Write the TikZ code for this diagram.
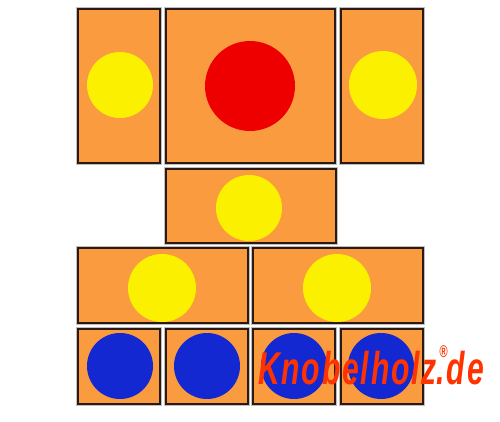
\documentclass[tikz,border=0pt]{standalone}
\usepackage{fontspec}
\newfontfamily\logofont[LetterSpace=6]{Liberation Sans}
\newfontfamily\regfont{Liberation Sans}
\definecolor{blockfill}{HTML}{F99B3E}
\definecolor{blockline}{HTML}{2B1A12}
\definecolor{ball_y}{HTML}{FAF000}
\definecolor{ball_r}{HTML}{EE0000}
\definecolor{ball_b}{HTML}{1428D2}
\definecolor{logo}{HTML}{FF3300}
\tikzset{
  block/.style={draw=blockline, fill=blockfill, line width=2.2pt, inner sep=0pt,
    preaction={draw=black!25, line width=4.5pt}},
  ball/.style={circle, inner sep=0pt, minimum size=#1},
}
\begin{document}
\begin{tikzpicture}[x=1pt,y=-1pt]
\useasboundingbox (0,0) rectangle (500,422);
% row 1
\node[block, minimum width=82pt, minimum height=154pt] (b1) at (119,86) {};
\node[block, minimum width=169pt, minimum height=154pt] (b2) at (250.5,86) {};
\node[block, minimum width=82pt, minimum height=154pt] (b3) at (382,86) {};
% row 2
\node[block, minimum width=170pt, minimum height=74pt] (b4) at (251,206) {};
% row 3
\node[block, minimum width=170pt, minimum height=75pt] (b5) at (163,285.5) {};
\node[block, minimum width=170pt, minimum height=75pt] (b6) at (338,285.5) {};
% row 4
\node[block, minimum width=82pt, minimum height=75pt] (b7) at (119,366.5) {};
\node[block, minimum width=82pt, minimum height=75pt] (b8) at (207,366.5) {};
\node[block, minimum width=82pt, minimum height=75pt] (b9) at (294,366.5) {};
\node[block, minimum width=82pt, minimum height=75pt] (b10) at (382,366.5) {};
% balls
\node[ball=66pt, fill=ball_y] (c1) at (120,85) {};
\node[ball=90pt, fill=ball_r] (c2) at (250,86) {};
\node[ball=68pt, fill=ball_y] (c3) at (383,85) {};
\node[ball=66pt, fill=ball_y] (c4) at (249,208) {};
\node[ball=68pt, fill=ball_y] (c5) at (162,288) {};
\node[ball=68pt, fill=ball_y] (c6) at (337,288) {};
\node[ball=66pt, fill=ball_b] (c7) at (120,366) {};
\node[ball=66pt, fill=ball_b] (c8) at (207,366) {};
\node[ball=66pt, fill=ball_b] (c9) at (294,366) {};
\node[ball=66pt, fill=ball_b] (c10) at (381,366) {};
% logo
\node[anchor=base west, inner sep=0pt, xscale=0.655, text=logo,
  font=\logofont\bfseries\itshape\fontsize{46}{46}\selectfont] (logo) at (258,384)
  {Knobelholz\rlap{\hspace{4pt}\raisebox{27pt}{\regfont\fontsize{17}{17}\selectfont ®}}.de};
\end{tikzpicture}
\end{document}
